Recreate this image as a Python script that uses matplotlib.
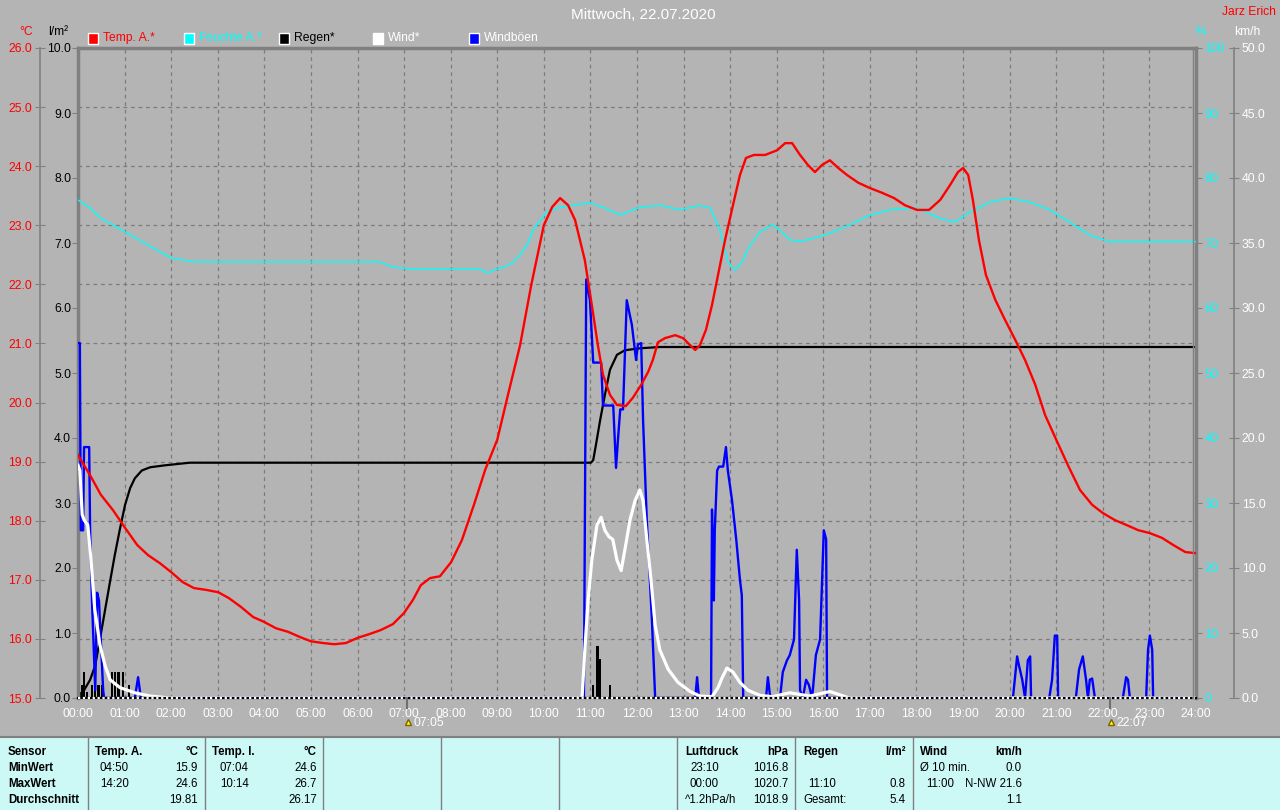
import matplotlib.pyplot as plt
from matplotlib.lines import Line2D
from matplotlib.patches import Rectangle
import numpy as np

plt.rcParams['font.family'] = ['Liberation Sans', 'DejaVu Sans']

W, H = 1280, 810
BG = '#b4b4b4'
GRID = '#7c7c7c'
FRAME = '#808080'
PANEL = '#ccf8f5'
FS = 8.7

title = 'Mittwoch, 22.07.2020'
author = 'Jarz Erich'

hours = list(range(25))
hour_labels = ['%02d:00' % h for h in hours]

# Temperatur aussen (°C)
temp_t = [0.0, 0.26, 0.49, 0.75, 1.01, 1.27, 1.5, 1.76, 2.0, 2.25, 2.49, 2.75, 3.01, 3.24,
          3.5, 3.76, 3.99, 4.25, 4.51, 4.77, 5.0, 5.26, 5.5, 5.75, 6.01, 6.25, 6.5, 6.76,
          7.0, 7.19, 7.36, 7.56, 7.77, 8.01, 8.24, 8.5, 8.74, 9.0, 9.23, 9.49, 9.73, 10.0,
          10.18, 10.35, 10.52, 10.67, 10.88, 11.03, 11.16, 11.27, 11.42, 11.57, 11.76,
          11.91, 12.09, 12.24, 12.34, 12.45, 12.6, 12.82, 12.99, 13.14, 13.25, 13.35,
          13.48, 13.61, 13.74, 13.89, 14.06, 14.21, 14.34, 14.51, 14.75, 15.01, 15.18,
          15.33, 15.5, 15.67, 15.82, 15.97, 16.14, 16.32, 16.51, 16.75, 17.0, 17.26,
          17.52, 17.75, 18.01, 18.27, 18.51, 18.72, 18.89, 19.0, 19.11, 19.21, 19.34,
          19.49, 19.69, 19.9, 20.12, 20.33, 20.55, 20.76, 21.0, 21.25, 21.51, 21.77,
          22.0, 22.26, 22.5, 22.76, 23.01, 23.27, 23.51, 23.77, 24.0]
temp_v = [19.11, 18.77, 18.44, 18.18, 17.88, 17.59, 17.42, 17.28, 17.13, 16.96, 16.86,
          16.83, 16.79, 16.69, 16.54, 16.37, 16.29, 16.18, 16.12, 16.03, 15.96, 15.93,
          15.91, 15.93, 16.02, 16.08, 16.15, 16.25, 16.44, 16.66, 16.91, 17.03, 17.06,
          17.3, 17.67, 18.27, 18.86, 19.37, 20.13, 20.97, 21.99, 23.0, 23.31, 23.46,
          23.34, 23.09, 22.41, 21.65, 20.97, 20.47, 20.13, 19.96, 19.94, 20.08, 20.3,
          20.52, 20.72, 21.02, 21.09, 21.14, 21.09, 20.97, 20.89, 20.97, 21.23, 21.65,
          22.16, 22.75, 23.34, 23.85, 24.14, 24.19, 24.19, 24.27, 24.39, 24.39, 24.19,
          24.02, 23.9, 24.02, 24.1, 23.97, 23.85, 23.72, 23.63, 23.55, 23.46, 23.34,
          23.26, 23.26, 23.43, 23.68, 23.9, 23.97, 23.85, 23.43, 22.75, 22.16, 21.74,
          21.4, 21.06, 20.72, 20.3, 19.79, 19.37, 18.94, 18.52, 18.27, 18.13, 18.01,
          17.93, 17.84, 17.79, 17.71, 17.59, 17.47, 17.45]

# Feuchte aussen (%)
hum_t = [0.0, 0.26, 0.49, 1.01, 1.5, 2.0, 2.49, 6.48, 6.76, 7.13, 8.63, 8.78, 9.0, 9.21,
         9.35, 9.49, 9.64, 9.77, 9.92, 10.07, 10.35, 10.63, 10.99, 11.31, 11.64, 12.06,
         12.49, 12.92, 13.35, 13.57, 13.78, 13.95, 14.1, 14.25, 14.43, 14.64, 14.9,
         15.07, 15.28, 15.5, 15.82, 16.14, 16.57, 17.0, 17.43, 18.0, 18.5, 18.82, 19.15,
         19.58, 20.0, 20.43, 20.86, 21.29, 21.72, 22.15, 24.0]
hum_v = [76.6, 75.4, 73.8, 71.7, 69.7, 67.7, 67.1, 67.1, 66.3, 66.0, 66.0, 65.4, 66.0,
         66.5, 67.1, 68.2, 69.7, 72.0, 73.5, 74.8, 75.5, 75.8, 76.2, 75.4, 74.3, 75.5,
         75.8, 75.1, 75.8, 75.4, 72.0, 67.1, 65.8, 67.1, 69.7, 71.7, 72.8, 72.0, 70.5,
         70.2, 70.8, 71.5, 72.8, 74.3, 75.1, 75.4, 73.8, 73.2, 74.8, 76.3, 76.9, 76.3,
         75.1, 73.2, 71.2, 70.2, 70.2]

# Regen kumuliert (l/m²)
rain_sum_t = [0.0, 0.13, 0.26, 0.37, 0.47, 0.58, 0.69, 0.79, 0.9, 1.01, 1.12, 1.22, 1.37,
              1.55, 1.87, 2.4, 11.01, 11.06, 11.12, 11.21, 11.31, 11.42, 11.57, 11.74,
              12.06, 12.49, 24.0]
rain_sum_v = [0.0, 0.12, 0.28, 0.5, 0.9, 1.35, 1.8, 2.2, 2.6, 2.97, 3.23, 3.38, 3.5,
              3.55, 3.58, 3.62, 3.62, 3.66, 3.9, 4.28, 4.66, 5.05, 5.28, 5.35, 5.38,
              5.4, 5.4]

# Regen je Intervall (l/m²)
rain_bar_t = [0.04, 0.08, 0.13, 0.19, 0.3, 0.36, 0.44, 0.52, 0.73, 0.8, 0.87, 0.97, 1.1,
              11.06, 11.15, 11.21, 11.42]
rain_bar_v = [0.1, 0.2, 0.4, 0.1, 0.2, 0.2, 0.2, 0.2, 0.4, 0.4, 0.4, 0.4, 0.2,
              0.2, 0.8, 0.6, 0.2]

# Wind (km/h)
wind_t = [0.0, 0.04, 0.09, 0.13, 0.21, 0.28, 0.36, 0.47, 0.58, 0.69, 0.9, 1.22, 1.55,
          1.97, 10.82, 10.88, 10.95, 11.03, 11.14, 11.23, 11.31, 11.4, 11.48, 11.57,
          11.66, 11.74, 11.85, 11.96, 12.06, 12.13, 12.21, 12.3, 12.39, 12.49, 12.67,
          12.88, 13.14, 13.35, 13.61, 13.74, 13.82, 13.93, 14.06, 14.21, 14.38, 14.64,
          14.9, 15.28, 15.71, 16.14, 16.47, 16.57, 24.0]
wind_v = [17.9, 17.5, 14.1, 13.7, 13.3, 10.6, 6.8, 4.1, 2.5, 1.4, 0.8, 0.4, 0.15, 0.0,
          0.0, 3.7, 7.5, 10.6, 13.3, 13.9, 12.9, 12.4, 12.2, 10.6, 9.8, 11.4, 13.7, 15.2,
          16.0, 15.2, 12.2, 9.1, 5.6, 3.7, 2.2, 1.2, 0.5, 0.15, 0.1, 0.8, 1.5, 2.3, 2.0,
          1.2, 0.6, 0.2, 0.1, 0.4, 0.15, 0.5, 0.1, 0.0, 0.0]

# Windböen (km/h)
gust_t = [0.0, 0.04, 0.06, 0.11, 0.13, 0.24, 0.26, 0.3, 0.37, 0.41, 0.45, 0.54, 0.56,
          1.22, 1.29, 1.35, 10.86, 10.91, 10.99, 11.06, 11.23, 11.27, 11.49, 11.55,
          11.59, 11.64, 11.7, 11.78, 11.89, 11.98, 12.02, 12.09, 12.13, 12.21, 12.32,
          12.39, 13.25, 13.29, 13.33, 13.59, 13.61, 13.65, 13.67, 13.72, 13.76, 13.85,
          13.91, 13.95, 14.04, 14.13, 14.21, 14.25, 14.28, 14.77, 14.81, 14.86, 15.07,
          15.13, 15.22, 15.28, 15.37, 15.43, 15.48, 15.5, 15.56, 15.63, 15.69, 15.76,
          15.84, 15.93, 16.01, 16.06, 16.08, 20.07, 20.16, 20.2, 20.27, 20.33, 20.39,
          20.44, 20.46, 20.85, 20.91, 20.97, 21.02, 21.04, 21.42, 21.49, 21.57, 21.64,
          21.68, 21.72, 21.77, 21.83, 22.43, 22.5, 22.54, 22.58, 22.93, 22.97, 23.01,
          23.06, 23.08, 24.0]
gust_v = [27.3, 27.3, 12.9, 12.9, 19.3, 19.3, 12.9, 7.5, 0.6, 8.1, 7.5, 0.6, 0.0,
          0.0, 1.6, 0.0, 0.0, 32.2, 30.6, 25.8, 25.8, 22.5, 22.5, 17.7,
          19.8, 22.2, 22.2, 30.6, 28.7, 26.0, 27.2, 27.3, 21.4, 13.7, 6.0,
          0.0, 0.0, 1.6, 0.0, 0.0, 14.5, 7.5, 12.9, 17.5, 17.8, 17.8,
          19.3, 17.5, 15.2, 12.2, 9.1, 7.9, 0.0, 0.0, 1.6, 0.0, 0.0,
          2.0, 2.9, 3.3, 4.5, 11.4, 7.5, 0.6, 0.0, 1.4, 1.0, 0.0,
          3.3, 4.5, 12.9, 12.2, 0.0, 0.0, 3.2, 2.5, 1.4, 0.0, 2.9,
          3.2, 0.0, 0.0, 1.4, 4.8, 4.8, 0.0, 0.0, 2.2, 3.2, 1.4,
          0.0, 1.4, 1.5, 0.0, 0.0, 1.6, 1.4, 0.0, 0.0, 3.7, 4.8,
          3.7, 0.0, 0.0]

legend_items = [('Temp. A.*', 'red', 'red', 88), ('Feuchte A.*', 'cyan', 'cyan', 184),
                ('Regen*', 'black', 'black', 279), ('Wind*', 'white', 'white', 373),
                ('Windböen', 'blue', 'white', 469)]

table_lines = [88, 205, 323, 441, 559, 677, 795, 913]


def fx(x):
    return x / W


def fy(y):
    return 1 - y / H


fig = plt.figure(figsize=(12.8, 8.1), dpi=100, facecolor=BG)
rect = [fx(78), fy(698), (1196 - 78) / W, 650 / H]


def layer(ylim):
    a = fig.add_axes(rect)
    a.set_xlim(0, 24)
    a.set_ylim(*ylim)
    a.patch.set_visible(False)
    a.xaxis.set_visible(False)
    for s in a.spines.values():
        s.set_visible(False)
    a.set_yticks([])
    return a


# Grundachse: Gitter, Zeitachse und °C
ax = fig.add_axes(rect)
ax.set_facecolor(BG)
ax.set_xlim(0, 24)
ax.set_ylim(15, 26)
ax.set_xticks(hours)
ax.set_xticklabels(hour_labels)
ax.tick_params(axis='x', length=0, pad=7, labelsize=FS, labelcolor='white')
ax.set_yticks(np.arange(15, 26.1, 1))
ax.set_yticklabels(['%.1f' % v for v in np.arange(15, 26.1, 1)])
ax.tick_params(axis='y', direction='inout', length=7, color=FRAME, pad=2,
               labelsize=FS, labelcolor='red')
ax.grid(True, color=GRID, linestyle=(0, (3, 3)), linewidth=0.9)
for s in ['top', 'right', 'bottom']:
    ax.spines[s].set_visible(False)
ax.spines['left'].set_position(('outward', 27.4))
ax.spines['left'].set_color(FRAME)
ax.spines['left'].set_linewidth(1.2)

# Regen
axR = layer((0, 10))
axR.set_yticks(np.arange(0, 10.1, 1))
axR.set_yticklabels(['%.1f' % v for v in np.arange(0, 10.1, 1)])
axR.tick_params(axis='y', direction='out', length=4, color=FRAME, pad=1,
                labelsize=FS, labelcolor='black')
for s in ['left', 'top', 'right']:
    axR.spines[s].set_visible(True)
    axR.spines[s].set_color(FRAME)
    axR.spines[s].set_linewidth(2.5)
axR.bar(rain_bar_t, rain_bar_v, width=0.05, color='black', align='center')
axR.plot(rain_sum_t, rain_sum_v, color='black', lw=1.6)

# Wind
axW = layer((0, 50))
axW.yaxis.tick_right()
axW.set_yticks(np.arange(0, 50.1, 5))
axW.set_yticklabels(['%.1f' % v for v in np.arange(0, 50.1, 5)])
axW.tick_params(axis='y', direction='inout', length=7, color=FRAME, pad=2,
                labelsize=FS, labelcolor='white')
axW.spines['right'].set_visible(True)
axW.spines['right'].set_position(('outward', 27.4))
axW.spines['right'].set_color(FRAME)
axW.spines['right'].set_linewidth(1.2)
axW.plot(gust_t, gust_v, color='blue', lw=1.7)
axW.plot(wind_t, wind_v, color='white', lw=2.3)

# Feuchte
axH = layer((0, 100))
axH.yaxis.tick_right()
axH.set_yticks(np.arange(0, 101, 10))
axH.set_yticklabels(['%d' % v for v in np.arange(0, 101, 10)])
axH.tick_params(axis='y', direction='out', length=4, color=FRAME, pad=2,
                labelsize=FS, labelcolor='cyan')
axH.plot(hum_t, hum_v, color='cyan', lw=1.0)

# Temperatur
axT = layer((15, 26))
axT.plot(temp_t, temp_v, color='red', lw=1.7)
axT.axhline(15, color='black', lw=1.6, clip_on=False)
axT.axhline(15, color='white', lw=1.6, ls=(0, (1, 1.2)), clip_on=False)
fig.add_artist(Line2D([fx(1192.5), fx(1192.5)], [fy(698), fy(48)], color=FRAME, lw=1,
                      transform=fig.transFigure))

# Kopfzeile
fig.text(fx(643), fy(15), title, color='white', fontsize=11, ha='center', va='center')
fig.text(fx(1276), fy(12), author, color='red', fontsize=FS, ha='right', va='center')
fig.text(fx(26), fy(32), '°C', color='red', fontsize=FS, ha='center', va='center')
fig.text(fx(58), fy(32), 'l/m²', color='black', fontsize=FS, ha='center', va='center')
fig.text(fx(1201), fy(32), '%', color='cyan', fontsize=FS, ha='center', va='center')
fig.text(fx(1247), fy(32), 'km/h', color='white', fontsize=FS, ha='center', va='center')
for name, col, tcol, x in legend_items:
    fig.add_artist(Rectangle((fx(x), fy(44)), 10 / W, 11 / H, transform=fig.transFigure,
                             facecolor=col, edgecolor='white', lw=1))
    fig.text(fx(x + 15), fy(38), name, color=tcol, fontsize=FS, ha='left', va='center')

# Sonnenauf- und -untergang
for x, s in [(407, '07:05'), (1110, '22:07')]:
    fig.add_artist(Line2D([fx(x), fx(x)], [fy(698), fy(708)], color='#707070', lw=1.5,
                          transform=fig.transFigure))
    fig.add_artist(Line2D([fx(x + 1)], [fy(722)], marker='^', color='yellow', markersize=5,
                          markeredgecolor='#806000', transform=fig.transFigure))
    fig.text(fx(x + 6), fy(723), s, color='white', fontsize=FS, ha='left', va='center')

# Tabelle
fig.add_artist(Rectangle((0, 0), 1, fy(737), transform=fig.transFigure,
                         facecolor=PANEL, edgecolor='none'))
fig.add_artist(Line2D([0, 1], [fy(737), fy(737)], color=FRAME, lw=1.5,
                      transform=fig.transFigure))
for x in table_lines:
    fig.add_artist(Line2D([fx(x), fx(x)], [0, fy(737)], color=FRAME, lw=1,
                          transform=fig.transFigure))

rows_y = [752, 768, 784, 800]


def cell(x, row, s, ha='left', bold=False):
    fig.text(fx(x), fy(rows_y[row]), s, color='black', fontsize=8.3, ha=ha, va='center',
             fontweight='bold' if bold else 'normal')


for i, s in enumerate(['Sensor', 'MinWert', 'MaxWert', 'Durchschnitt']):
    cell(8, i, s, bold=True)
cell(95, 0, 'Temp. A.', bold=True)
cell(198, 0, '°C', ha='right', bold=True)
cell(100, 1, '04:50')
cell(198, 1, '15.9', ha='right')
cell(100, 2, '14:20')
cell(198, 2, '24.6', ha='right')
cell(198, 3, '19.81', ha='right')
cell(212, 0, 'Temp. I.', bold=True)
cell(317, 0, '°C', ha='right', bold=True)
cell(220, 1, '07:04')
cell(317, 1, '24.6', ha='right')
cell(220, 2, '10:14')
cell(317, 2, '26.7', ha='right')
cell(317, 3, '26.17', ha='right')

cell(685, 0, 'Luftdruck', bold=True)
cell(788, 0, 'hPa', ha='right', bold=True)
cell(690, 1, '23:10')
cell(788, 1, '1016.8', ha='right')
cell(690, 2, '00:00')
cell(788, 2, '1020.7', ha='right')
cell(685, 3, '^1.2hPa/h')
cell(788, 3, '1018.9', ha='right')

cell(803, 0, 'Regen', bold=True)
cell(906, 0, 'l/m²', ha='right', bold=True)
cell(808, 2, '11:10')
cell(906, 2, '0.8', ha='right')
cell(803, 3, 'Gesamt:')
cell(906, 3, '5.4', ha='right')

cell(920, 0, 'Wind', bold=True)
cell(1022, 0, 'km/h', ha='right', bold=True)
cell(920, 1, 'Ø 10 min.')
cell(1022, 1, '0.0', ha='right')
cell(926, 2, '11:00')
cell(1022, 2, 'N-NW 21.6', ha='right')
cell(1022, 3, '1.1', ha='right')

fig.savefig('out.png', dpi=100, facecolor=BG)
